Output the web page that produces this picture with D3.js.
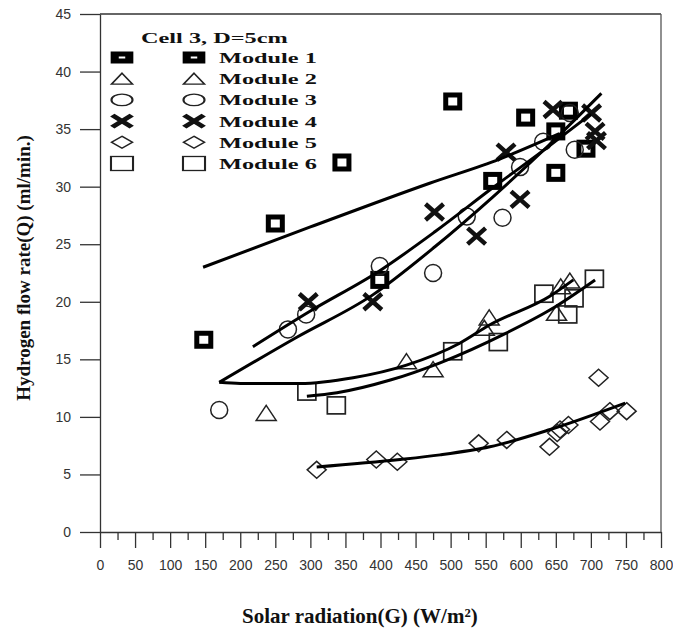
<!DOCTYPE html>
<html>
<head>
<meta charset="utf-8">
<script src="https://cdn.jsdelivr.net/npm/d3@7"></script>
<style>
  html, body { margin: 0; padding: 0; background: #fff; }
  svg { display: block; }
</style>
</head>
<body>
<svg id="chart" width="673" height="637"></svg>
<script>
// ---------------- data (G in W/m², Q in ml/min) ----------------
const legendTitle = "Cell 3, D=5cm";
const seriesNames = ["Module 1", "Module 2", "Module 3", "Module 4", "Module 5", "Module 6"];
const xTicks = [0,50,100,150,200,250,300,350,400,450,500,550,600,650,700,750,800];
const xMinorTicks = [25,75,125,175,225,275,325,375,425,475,525,575,625,675,725,775];
const yTicks = [0,5,10,15,20,25,30,35,40,45];

const module1 = [[148,16.7],[250,26.8],[345,32.1],[399,21.9],[503,37.4],[560,30.5],[607,36.0],[650,31.2],[650,34.8],[668,36.6],[693,33.3]];
const module2 = [[237,10.3],[437,14.8],[475,14.1],[555,18.6],[548,17.7],[651,19.0],[657,21.3],[670,21.8]];
const module3 = [[170,10.6],[268,17.6],[294,18.9],[399,23.1],[475,22.5],[523,27.4],[574,27.3],[599,31.7],[632,33.9],[677,33.2],[670,36.4]];
const module4 = [[297,20.0],[389,20.0],[477,27.8],[537,25.7],[579,33.0],[599,28.9],[646,36.7],[701,36.4],[706,34.8],[708,34.0]];
const module5 = [[309,5.4],[394,6.3],[424,6.1],[540,7.7],[580,8.0],[641,7.4],[652,8.6],[656,8.9],[668,9.3],[711,13.4],[713,9.6],[727,10.5],[751,10.5]];
const module6 = [[295,12.2],[337,11.0],[503,15.7],[568,16.5],[633,20.7],[667,18.9],[676,20.3],[705,22.0]];

// fitted trend curves
const fit1 = [[147,23.0],[300,26.5],[470,30.3],[570,32.4],[655,34.6]];
const fit2 = [[170,13.0],[200,12.9],[285,12.9],[361,13.4],[437,14.5],[513,16.4],[556,18.0],[642,20.5],[675,21.9]];
const fit3 = [[218,16.1],[300,19.2],[399,22.7],[478,26.1],[560,29.9],[640,33.5],[700,36.3]];
const fit4 = [[170,13.0],[280,16.9],[389,20.6],[478,24.8],[560,29.1],[640,33.6],[715,38.1]];
const fit5 = [[309,5.65],[428,6.3],[485,6.7],[556,7.4],[642,8.9],[749,11.2]];
const fit6 = [[295,11.8],[338,12.1],[414,13.2],[485,14.7],[580,17.3],[642,19.3],[706,21.9]];

// ---------------- layout ----------------
const L = 100, R = 661, T = 14, B = 532;
const svg = d3.select("#chart");
const x = d3.scaleLinear().domain([0, 800]).range([L, R]);
const y = d3.scaleLinear().domain([0, 45]).range([B, T]);
const axisColor = "#333";
const tickFont = "'Liberation Sans', Arial, sans-serif";
const serif = "'Liberation Serif', 'Times New Roman', serif";

// frame top/right
svg.append("line").attr("x1", L).attr("x2", R).attr("y1", T).attr("y2", T)
  .attr("stroke", axisColor).attr("stroke-width", 1.3);
svg.append("line").attr("x1", R).attr("x2", R).attr("y1", T).attr("y2", B)
  .attr("stroke", "#555").attr("stroke-width", 1.3);

// x axis (major)
const gx = svg.append("g").attr("transform", `translate(0,${B})`)
  .call(d3.axisBottom(x).tickValues(xTicks).tickSize(16).tickSizeOuter(0).tickPadding(12).tickFormat(d3.format("d")));
// x axis (minor)
const gxm = svg.append("g").attr("transform", `translate(0,${B})`)
  .call(d3.axisBottom(x).tickValues(xMinorTicks).tickSize(8).tickSizeOuter(0).tickFormat(""));
gxm.select(".domain").remove();
// y axis
const gy = svg.append("g").attr("transform", `translate(${L},0)`)
  .call(d3.axisLeft(y).tickValues(yTicks).tickSize(20).tickSizeOuter(0).tickPadding(9).tickFormat(d3.format("d")));

[gx, gxm, gy].forEach(g => {
  g.selectAll(".domain").attr("stroke", axisColor).attr("stroke-width", 1.3);
  g.selectAll(".tick line").attr("stroke", axisColor).attr("stroke-width", 1.3);
  g.selectAll(".tick text").attr("fill", "#333").style("font-family", tickFont).style("font-size", "14px");
});

// axis titles
svg.append("text").attr("x", 242).attr("y", 623).attr("text-anchor", "start")
  .style("font-family", serif).style("font-weight", "bold").style("font-size", "21px").attr("fill", "#111")
  .text("Solar radiation(G) (W/m²)");
svg.append("text").attr("transform", "translate(30,268) rotate(-90)").attr("text-anchor", "middle")
  .style("font-family", serif).style("font-weight", "bold").style("font-size", "19px").attr("fill", "#111")
  .text("Hydrogen flow rate(Q) (ml/min.)");

// ---------------- symbols ----------------
function drawSym(g, type, s) {
  if (type === 0) {
    g.append("rect").attr("x", -7*s).attr("y", -6.5*s).attr("width", 14*s).attr("height", 13*s)
      .attr("fill", "#fff").attr("stroke", "#000").attr("stroke-width", 5*s);
  } else if (type === 1) {
    g.append("path").attr("d", `M0,${-8*s}L${10*s},${7*s}L${-10*s},${7*s}Z`)
      .attr("fill", "none").attr("stroke", "#222").attr("stroke-width", 1.5);
  } else if (type === 2) {
    g.append("circle").attr("r", 8.5*s).attr("fill", "none").attr("stroke", "#222").attr("stroke-width", 1.5);
  } else if (type === 3) {
    g.append("path").attr("d", `M${-9*s},${-8*s}L${9*s},${8*s}M${-9*s},${8*s}L${9*s},${-8*s}`)
      .attr("fill", "none").attr("stroke", "#111").attr("stroke-width", 4.5*s);
  } else if (type === 4) {
    g.append("path").attr("d", `M0,${-8.5*s}L${9.5*s},0L0,${8.5*s}L${-9.5*s},0Z`)
      .attr("fill", "none").attr("stroke", "#222").attr("stroke-width", 1.5);
  } else if (type === 5) {
    g.append("rect").attr("x", -9*s).attr("y", -8.5*s).attr("width", 18*s).attr("height", 17*s)
      .attr("fill", "none").attr("stroke", "#222").attr("stroke-width", 1.7);
  }
}

const allSeries = [module1, module2, module3, module4, module5, module6];
const plot = svg.append("g");
allSeries.forEach((data, i) => {
  plot.selectAll(null).data(data).enter().append("g")
    .attr("transform", d => `translate(${x(d[0])},${y(d[1])})`)
    .each(function() { drawSym(d3.select(this), i, 1); });
});

// fit curves
const line = d3.line().x(d => x(d[0])).y(d => y(d[1])).curve(d3.curveMonotoneX);
[fit1, fit2, fit3, fit4, fit5, fit6].forEach(f => {
  plot.append("path").attr("d", line(f)).attr("fill", "none")
    .attr("stroke", "#000").attr("stroke-width", 3).attr("stroke-linejoin", "round");
});

// ---------------- legend (horizontally stretched) ----------------
const sx = 1.62, lx0 = 110;
const leg = svg.append("g").attr("transform", `translate(${lx0},0) scale(${sx},1)`);
const ux = px => (px - lx0) / sx;
leg.append("text").attr("x", ux(141)).attr("y", 43)
  .style("font-family", serif).style("font-weight", "bold").style("font-size", "15px").attr("fill", "#111")
  .text(legendTitle);
seriesNames.forEach((name, i) => {
  const ry = 57.5 + i * 21.2;
  [122, 194].forEach(cx => {
    const g = leg.append("g").attr("transform", `translate(${ux(cx)},${ry})`);
    if (i === 0) {
      g.append("rect").attr("x", -4.5).attr("y", -3.5).attr("width", 9).attr("height", 7)
        .attr("fill", "#fff").attr("stroke", "#000").attr("stroke-width", 5);
    } else if (i === 1) {
      g.append("path").attr("d", "M0,-5.5L6.5,5.5L-6.5,5.5Z").attr("fill", "none").attr("stroke", "#222").attr("stroke-width", 1.2);
    } else if (i === 2) {
      g.append("ellipse").attr("rx", 6.5).attr("ry", 5.8).attr("fill", "none").attr("stroke", "#222").attr("stroke-width", 1.3);
    } else if (i === 3) {
      g.append("path").attr("d", "M-6,-6L6,6M-6,6L6,-6").attr("fill", "none").attr("stroke", "#111").attr("stroke-width", 3.8);
    } else if (i === 4) {
      g.append("path").attr("d", "M0,-6L6.5,0L0,6L-6.5,0Z").attr("fill", "none").attr("stroke", "#222").attr("stroke-width", 1.2);
    } else {
      g.append("rect").attr("x", -6.8).attr("y", -7).attr("width", 13.6).attr("height", 14)
        .attr("fill", "none").attr("stroke", "#222").attr("stroke-width", 1.3);
    }
  });
  leg.append("text").attr("x", ux(219)).attr("y", ry + 5.5)
    .style("font-family", serif).style("font-weight", "bold").style("font-size", "15px").attr("fill", "#111")
    .text(name);
});
</script>
</body>
</html>
